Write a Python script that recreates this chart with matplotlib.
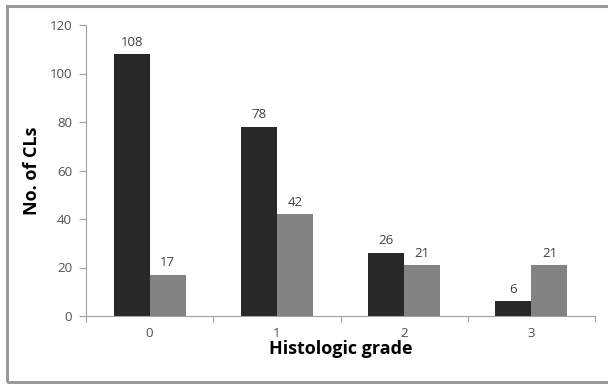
import matplotlib.pyplot as plt
import matplotlib.patches as patches
import numpy as np

# dados
grades = ['0', '1', '2', '3']
serie_escura = [108, 78, 26, 6]
serie_clara = [17, 42, 21, 21]

plt.rcParams['font.family'] = ['Open Sans', 'DejaVu Sans']

fig = plt.figure(figsize=(6.08, 3.84), dpi=100)
fig.patch.set_facecolor('white')

# moldura cinza
moldura = patches.Rectangle((7/608, 2/384), 1.2, 376/384, transform=fig.transFigure,
                            fill=False, edgecolor='#9a9a9a', linewidth=2.2)
fig.add_artist(moldura)

ax = fig.add_axes([86/608, 1 - 316/384, 509/608, 291/384])

x = np.arange(len(grades))
w = 0.283
b1 = ax.bar(x - w/2, serie_escura, w, color='#282828')
b2 = ax.bar(x + w/2, serie_clara, w, color='#828282')

for barras in (b1, b2):
    for r in barras:
        ax.annotate(str(int(r.get_height())), (r.get_x() + r.get_width()/2, r.get_height()),
                    xytext=(0, 4), textcoords='offset points', ha='center', va='bottom',
                    fontsize=9.5, color='#404040')

ax.set_xlim(-0.5, 3.5)
ax.set_ylim(0, 120)
ax.set_yticks(range(0, 121, 20))
ax.set_xticks(x)
ax.set_xticklabels(grades)
ax.set_xticks(np.arange(-0.5, 3.6, 1), minor=True)

ax.tick_params(axis='y', length=5, width=0.8, color='#a0a0a0', labelsize=9.5, labelcolor='#505050', pad=5)
ax.tick_params(axis='x', which='major', length=0, labelsize=9.5, labelcolor='#505050', pad=8)
ax.tick_params(axis='x', which='minor', length=4, width=0.8, color='#a0a0a0')

for s in ['top', 'right']:
    ax.spines[s].set_visible(False)
for s in ['left', 'bottom']:
    ax.spines[s].set_color('#a0a0a0')
    ax.spines[s].set_linewidth(0.8)

ax.set_ylabel('No. of CLs', fontsize=13, fontweight='bold', color='black', labelpad=6)
ax.set_xlabel('Histologic grade', fontsize=13, fontweight='bold', color='black', labelpad=0)

fig.savefig('out.png', dpi=100)
